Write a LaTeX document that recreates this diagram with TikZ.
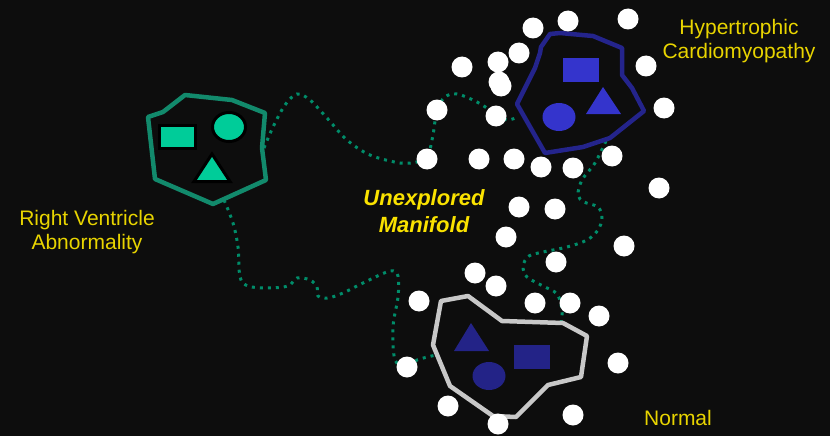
\documentclass[tikz,border=0pt]{standalone}
\usepackage{fontspec}
\setmainfont{Liberation Sans}
\usetikzlibrary{backgrounds}

\definecolor{bgdark}{RGB}{13,13,13}
\definecolor{rvline}{RGB}{18,138,108}
\definecolor{rvfill}{RGB}{0,204,153}
\definecolor{hcmline}{RGB}{36,36,140}
\definecolor{hcmfill}{RGB}{52,52,204}
\definecolor{normline}{RGB}{200,200,200}
\definecolor{normfill}{RGB}{35,35,135}
\definecolor{labelgold}{RGB}{232,212,0}
\definecolor{manifoldgold}{RGB}{250,226,0}
\definecolor{trail}{RGB}{0,140,105}

\tikzset{
  sample/.style={circle,fill=white,inner sep=0pt,minimum size=21pt},
  cluster/.style={line width=4.5pt,line join=round},
  marker/.style={draw=black,line width=3pt,fill=rvfill},
  trailpath/.style={trail,line width=3pt,dash pattern=on 3pt off 5pt},
  classlabel/.style={text=labelgold,align=center,font=\fontsize{21}{24.5}\selectfont}
}

\begin{document}
\begin{tikzpicture}[x=1pt,y=-1pt]
  \useasboundingbox (0,0) rectangle (830,436);
  \begin{pgfonlayer}{background}
    \fill[bgdark] (0,0) rectangle (830,436);
  \end{pgfonlayer}

  % right ventricle abnormality
  \draw[cluster,rvline] (148,117) -- (163,112) -- (185,95) -- (232,100) -- (265,113)
    -- (262,148) -- (266,180) -- (213,204) -- (155,179) -- cycle;
  \draw[marker] (159,125) rectangle (195,148);
  \draw[marker] (229,127) ellipse [x radius=16.5pt, y radius=14.5pt];
  \draw[marker] (212,154) -- (230,181.5) -- (194,181.5) -- cycle;
  \coordinate (rv-east) at (264,148);
  \coordinate (rv-south) at (224,200);

  % hypertrophic cardiomyopathy
  \draw[cluster,hcmline] (550,34) -- (560,33) -- (593,36) -- (622,48) -- (622,75)
    -- (632,88) -- (644,111) -- (610,138) -- (583,147) -- (545,153) -- (517,104)
    -- (535,68) -- (540,53) -- (541,47) -- cycle;
  \fill[hcmfill] (563,58) rectangle (599,82);
  \fill[hcmfill] (559,117) ellipse [x radius=16.5pt, y radius=14pt];
  \fill[hcmfill] (603,87) -- (621,114) -- (586,114) -- cycle;
  \coordinate (hcm-west) at (518,117);
  \coordinate (hcm-south) at (606,141);

  % normal
  \draw[cluster,normline] (441,301) -- (468,296) -- (502,321) -- (563,323) -- (587,336)
    -- (581,377) -- (548,385) -- (516,417) -- (493,416) -- (450,386) -- (433,345) -- cycle;
  \fill[normfill] (514,345) rectangle (550,369);
  \fill[normfill] (489,376) ellipse [x radius=16.5pt, y radius=14pt];
  \fill[normfill] (471,323) -- (489,351) -- (454,351) -- cycle;
  \coordinate (norm-west) at (436,355);
  \coordinate (norm-north) at (561,323);

  % samples
  \foreach \x/\y [count=\i] in {533/28, 568/21, 628/19, 519/53, 498/62, 462/67,
      499/82, 501/86, 646/66, 496/116, 664/108, 479/159, 514/159, 541/167, 573/168,
      612/156, 659/188, 519/207, 555/209, 506/237, 624/246, 556/262, 475/273,
      496/286, 419/301, 535/303, 570/303, 599/316, 618/363, 448/406, 498/424, 573/415}
    \node[sample] (s\i) at (\x,\y) {};
  \node[sample] (m1) at (427,159) {};
  \node[sample] (m2) at (437,110) {};
  \node[sample] (m3) at (407,367) {};

  % paths across the manifold
  \begin{pgfonlayer}{background}
    \draw[trailpath] plot[smooth,tension=0.55] coordinates {(rv-east) (273,127) (285,105)
      (297,94) (310,100) (327,118) (347,140) (370,155) (400,163) (417,162) (m1)
      (433,135) (m2) (445,97) (457,94) (477,102) (496,114) (507,120) (hcm-west)};
    \draw[trailpath] plot[smooth,tension=0.55] coordinates {(hcm-south) (595,163)
      (582,180) (578,195) (584,202) (598,207) (602,218) (598,230) (587,240) (567,247)
      (543,252) (529,256) (523,266) (527,277) (543,286) (557,294) (562,310) (norm-north)};
    \draw[trailpath] plot[smooth,tension=0.55] coordinates {(rv-south) (233,223)
      (238,247) (240,277) (248,286) (267,288) (288,286) (297,278) (310,280) (317,287)
      (318,296) (328,298) (343,293) (363,283) (390,271) (398,276) (398,297) (393,327)
      (395,360) (m3) (417,360) (norm-west)};
  \end{pgfonlayer}

  % labels
  \node[classlabel] (hcm-label) at (739,41) {Hypertrophic\\Cardiomyopathy};
  \node[classlabel] (rv-label) at (87,232) {Right Ventricle\\Abnormality};
  \node[classlabel] (norm-label) at (678,418) {Normal};
  \node[classlabel,text=manifoldgold,font=\fontsize{22}{27}\selectfont\bfseries\itshape]
    (manifold-label) at (424,211) {Unexplored\\Manifold};
\end{tikzpicture}
\end{document}
